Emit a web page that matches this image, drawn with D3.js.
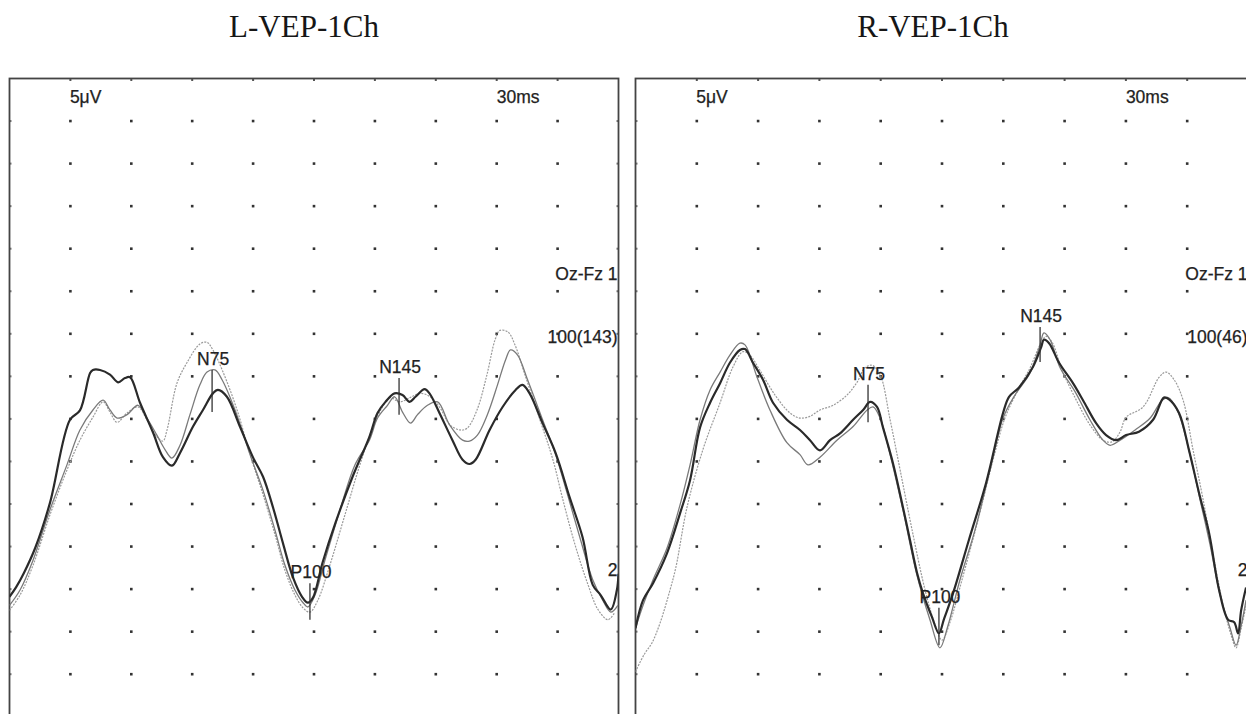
<!DOCTYPE html>
<html>
<head>
<meta charset="utf-8">
<script src="https://cdn.jsdelivr.net/npm/d3@7"></script>
<style>
  html, body { margin: 0; padding: 0; background: #ffffff; }
  svg { display: block; }
</style>
</head>
<body>
<svg id="chart" width="1246" height="714"></svg>
<script>
// ---------------- DATA (time in ms, amplitude in µV) ----------------
const panelTitles = ["L-VEP-1Ch", "R-VEP-1Ch"];
const timeTicks = [0, 30, 60, 90, 120, 150, 180, 210, 240, 270, 300];
const ampTicks = [40, 35, 30, 25, 20, 15, 10, 5, 0, -5, -10, -15, -20, -25, -30, -35, -40];
const scaleLabels = ["5\u03bcV", "30ms"];
const channelLabel = "Oz-Fz 1";
const sweepLabels = ["100(143)", "100(46)"];
const endLabel = "2";

// Left eye traces
const L_dark = [[0,-20.9],[3.2,-19.8],[7.1,-18.1],[12.6,-15.2],[19.9,-9.9],[29.8,-0.1],[34.7,1.0],[39.7,5.4],[41.1,5.75],[44.6,5.75],[49.5,5.2],[53.5,4.3],[56.9,4.8],[59.4,4.9],[64.3,1.9],[70.7,-1.6],[75.6,-4.5],[80.0,-5.5],[84.0,-4.0],[90.4,-0.9],[95.3,1.05],[100.2,3.0],[102.7,3.4],[107.1,2.6],[113.5,-0.9],[119.9,-4.5],[124.9,-6.8],[129.8,-10.4],[134.7,-14.6],[139.6,-18.6],[144.1,-20.9],[147.0,-21.6],[149.5,-21.0],[154.2,-16.9],[160.6,-12.2],[169.0,-6.8],[177.3,-2.1],[181.3,0.7],[185.2,2.0],[189.7,3.0],[193.6,2.8],[197.1,2.0],[200.0,2.6],[204.5,3.5],[206.9,3.0],[211.8,0.7],[218.2,-2.5],[223.2,-4.8],[226.6,-5.3],[229.6,-4.8],[236.5,-1.3],[242.9,1.4],[249.3,3.4],[252.7,4.0],[256.2,3.0],[262.6,-0.5],[269.0,-4.0],[275.9,-9.2],[282.3,-13.9],[287.3,-19.5],[291.2,-20.7],[296.2,-22.4],[299.2,-20.1],[300,-18.2]];
const L_gray1 = [[0,-21.9],[5.2,-20.1],[11.6,-16.6],[19.9,-10.7],[28.3,-5.4],[34.7,-1.3],[41.1,1.05],[46.1,2.2],[49.5,1.05],[53.0,0.1],[57.9,0.5],[63.3,1.6],[67.7,0.1],[72.6,-1.9],[76.6,-3.6],[80.0,-4.6],[84.0,-3.1],[88.9,0.5],[93.8,4.0],[97.3,5.5],[101.2,5.75],[104.7,4.6],[111.1,1.05],[118.5,-4.2],[124.9,-8.4],[130.8,-13.1],[135.7,-17.2],[140.6,-20.1],[144.6,-21.6],[147.0,-22.1],[150.5,-20.7],[155.4,-16.6],[162.8,-10.7],[170.2,-5.4],[177.3,-2.5],[181.3,0.1],[186.2,1.6],[189.7,2.6],[193.6,0.8],[197.6,-0.5],[201.0,0.5],[205.9,1.6],[210.9,2.0],[216.8,-0.7],[223.2,-2.5],[226.6,-2.6],[230.5,-1.9],[235.4,0.5],[240.4,4.0],[244.3,6.9],[246.8,8.1],[250.3,7.5],[255.2,4.6],[262.6,-0.1],[269.0,-4.2],[274.9,-8.9],[281.3,-14.2],[287.3,-18.9],[292.2,-21.3],[296.2,-22.7],[299.7,-21.9]];
const L_gray2 = [[0,-22.5],[5.2,-20.7],[11.6,-17.2],[19.9,-11.3],[28.3,-6.0],[34.7,-2.5],[41.1,0.2],[46.1,2.0],[49.5,0.8],[53.0,-0.4],[57.9,0.7],[63.3,1.4],[67.7,-0.1],[72.6,-2.1],[75.6,-2.6],[77.6,-1.3],[82.5,4.2],[87.4,6.6],[93.8,8.8],[97.3,9.0],[100.2,8.1],[105.2,5.5],[112.1,1.05],[118.5,-4.2],[124.9,-8.9],[130.8,-13.6],[135.7,-17.8],[140.6,-20.7],[144.6,-22.2],[148.0,-22.7],[151.9,-21.3],[157.8,-17.2],[165.2,-11.3],[172.6,-5.4],[178.5,-1.3],[183.5,1.3],[187.4,2.5],[192.3,2.0],[197.3,2.5],[202.2,3.0],[207.2,2.6],[212.1,1.3],[217.0,-0.7],[222.0,-1.3],[225.4,-1.1],[230.3,1.05],[235.2,5.2],[239.2,9.3],[241.6,10.4],[245.6,10.2],[249.0,8.7],[253.9,5.2],[261.3,-0.1],[267.7,-4.8],[272.6,-9.5],[278.6,-14.8],[285.0,-19.5],[289.9,-22.4],[294.8,-23.6],[298.3,-22.7]];

// Right eye traces
const R_dark = [[0,-24.6],[3.7,-21.3],[8.6,-19.3],[15.4,-15.8],[21.8,-11.1],[26.7,-7.2],[31.6,-1.0],[36.5,1.9],[41.4,4.2],[46.2,6.6],[51.1,8.1],[53.6,8.2],[57.5,6.6],[62.4,4.6],[67.3,1.9],[74.1,-0.1],[80.5,-1.3],[85.4,-2.5],[90.3,-3.7],[95.2,-2.5],[100.1,-1.7],[106.5,-0.1],[111.4,1.05],[114.8,2.0],[118.2,1.4],[121.1,-1.0],[126.0,-5.2],[130.9,-10.4],[134.3,-14.2],[137.8,-18.1],[140.7,-20.5],[145.1,-23.3],[148.5,-25.2],[151.0,-23.5],[155.4,-20.5],[163.2,-14.2],[171.6,-7.5],[179.9,0.7],[182.8,2.6],[187.7,3.7],[194.5,6.1],[198.5,8.4],[199.9,9.3],[202.4,8.9],[207.3,6.6],[214.1,4.2],[219.0,2.2],[225.4,-0.5],[230.3,-1.9],[235.2,-2.5],[240.1,-1.9],[246.4,-1.5],[253.3,-0.1],[258.6,2.5],[261.1,2.3],[266.0,0.7],[270.9,-3.7],[275.8,-8.7],[280.7,-13.4],[285.6,-20.1],[290.0,-23.6],[293.0,-23.9],[294.9,-25.2],[296.4,-22.5],[298.8,-19.8]];
const R_gray1 = [[0,-24.6],[3.7,-21.9],[8.6,-18.9],[15.4,-15.2],[21.8,-10.1],[26.7,-5.4],[31.6,-0.1],[36.5,3.4],[41.4,5.5],[46.2,7.5],[51.1,8.9],[53.6,8.7],[59.5,4.9],[65.8,1.05],[74.1,-2.8],[80.5,-4.2],[84.4,-5.4],[90.3,-4.5],[98.6,-2.5],[106.5,-0.9],[113.4,1.05],[116.3,1.4],[119.7,0.1],[124.6,-4.2],[130.9,-10.7],[137.8,-18.4],[144.1,-23.6],[149.0,-26.9],[152.9,-24.3],[158.8,-18.9],[166.1,-13.1],[173.5,-6.0],[179.9,0.1],[185.7,2.8],[193.1,5.4],[198.0,8.7],[199.9,10.1],[202.9,9.3],[207.8,6.0],[215.1,3.2],[222.4,-0.1],[228.8,-2.5],[232.3,-3.1],[237.2,-2.5],[244.5,-1.3],[251.9,0.1],[257.7,2.2],[260.7,2.5],[265.5,0.8],[271.4,-4.2],[276.3,-9.5],[281.2,-14.8],[286.1,-20.7],[291.0,-24.6],[293.9,-26.6],[296.4,-24.3],[298.8,-21.3]];
const R_gray2 = [[0,-29.7],[4.2,-27.7],[8.1,-26.3],[12.0,-24.0],[16.9,-20.1],[19.8,-17.4],[25.2,-10.4],[33.0,-3.6],[41.4,1.9],[47.7,6.1],[52.6,7.9],[56.0,7.5],[60.9,5.7],[68.3,2.8],[75.6,0.7],[80.5,0.1],[85.4,0.3],[90.3,1.05],[96.7,1.6],[103.5,2.8],[108.4,4.3],[112.3,6.0],[115.8,6.3],[119.7,5.2],[124.6,-0.1],[129.5,-6.0],[135.4,-13.1],[141.7,-20.1],[146.6,-24.2],[150.0,-26.0],[153.9,-23.9],[159.8,-18.9],[167.6,-11.9],[175.0,-4.8],[180.8,0.1],[187.2,3.4],[193.1,6.0],[198.0,8.7],[200.9,9.7],[203.9,9.0],[208.8,5.7],[215.1,2.5],[222.4,-0.7],[228.8,-2.5],[233.2,-2.7],[237.2,-1.5],[240.1,0.2],[248.4,1.4],[256.3,4.9],[259.7,5.5],[263.6,4.6],[268.0,2.2],[272.9,-3.7],[277.8,-9.5],[282.7,-16.0],[287.6,-21.9],[291.5,-25.4],[293.9,-26.9],[296.4,-24.6],[298.8,-21.9]];

// Peak markers: [label, time ms, marker top µV, marker bottom µV]
const L_markers = [["N75", 99.8, 5.75, 0.8], ["P100", 148.0, -19.3, -23.6], ["N145", 191.9, 4.8, 0.5]];
const R_markers = [["N75", 113.8, 4.0, -0.4], ["P100", 148.5, -22.2, -26.6], ["N145", 198.0, 10.8, 6.7]];

// ---------------- DRAWING ----------------
const svg = d3.select("#chart");
const panels = [
  { title: panelTitles[0], x0: 9.5, w: 609, titleX: 304, traces: [L_gray2, L_gray1, L_dark], markers: L_markers, sweep: sweepLabels[0] },
  { title: panelTitles[1], x0: 635.5, w: 613, titleX: 933, traces: [R_gray2, R_gray1, R_dark], markers: R_markers, sweep: sweepLabels[1] }
];
const frameTop = 78.5, rowH = 42.55;
const traceStyles = [
  { stroke: "#9a9a9a", width: 1.2, dash: "2,1.2" },
  { stroke: "#7a7a7a", width: 1.3, dash: null },
  { stroke: "#2a2a2a", width: 2.2, dash: null }
];
const labelFont = "'Liberation Sans', Arial, Helvetica, sans-serif";

panels.forEach((p, i) => {
  const x = d3.scaleLinear().domain([0, 300]).range([p.x0, p.x0 + p.w]);
  const y = d3.scaleLinear().domain([40, -40]).range([frameTop, frameTop + rowH * 16]);
  const g = svg.append("g");

  // title
  svg.append("text").attr("x", p.titleX).attr("y", 37)
    .attr("text-anchor", "middle")
    .style("font-family", "'Liberation Serif', 'Times New Roman', serif")
    .style("font-size", "31px").style("fill", "#161616")
    .text(p.title);

  // grid dots
  const inner = timeTicks.slice(1, -1);
  const innerA = ampTicks.slice(1, -1);
  innerA.forEach(a => {
    inner.forEach(t => {
      g.append("rect").attr("x", x(t) - 1.3).attr("y", y(a) - 1.3)
        .attr("width", 2.6).attr("height", 2.6).attr("fill", "#333");
    });
  });
  // border tick marks
  inner.forEach(t => {
    g.append("rect").attr("x", x(t) - 1).attr("y", frameTop - 0.5).attr("width", 2).attr("height", 3).attr("fill", "#555");
  });
  innerA.forEach(a => {
    g.append("rect").attr("x", p.x0).attr("y", y(a) - 1).attr("width", 2).attr("height", 2).attr("fill", "#777");
    g.append("rect").attr("x", p.x0 + p.w - 2).attr("y", y(a) - 1).attr("width", 2).attr("height", 2).attr("fill", "#777");
  });

  // frame
  g.append("rect").attr("x", p.x0).attr("y", frameTop).attr("width", p.w).attr("height", rowH * 16)
    .attr("fill", "none").attr("stroke", "#444").attr("stroke-width", 1.8);

  // clip
  const cid = "clip" + i;
  svg.append("clipPath").attr("id", cid).append("rect")
    .attr("x", p.x0).attr("y", frameTop).attr("width", p.w).attr("height", rowH * 16);

  const line = d3.line().x(d => x(d[0])).y(d => y(d[1])).curve(d3.curveCatmullRom.alpha(0.5));
  const tg = g.append("g").attr("clip-path", `url(#${cid})`);
  p.traces.forEach((tr, k) => {
    const s = traceStyles[k];
    tg.append("path").datum(tr).attr("d", line)
      .attr("fill", "none").attr("stroke", s.stroke).attr("stroke-width", s.width)
      .attr("stroke-linejoin", "round")
      .attr("stroke-dasharray", s.dash);
  });

  // markers
  p.markers.forEach(m => {
    g.append("line").attr("x1", x(m[1])).attr("x2", x(m[1]))
      .attr("y1", y(m[2])).attr("y2", y(m[3]))
      .attr("stroke", "#333").attr("stroke-width", 1.3);
    g.append("text").attr("x", x(m[1]) + 1).attr("y", y(m[2]) - 5)
      .attr("text-anchor", "middle")
      .style("font-family", labelFont).style("font-size", "17.5px").style("fill", "#222")
      .style("stroke", "#222").style("stroke-width", "0.25px")
      .text(m[0]);
  });

  // scale labels
  const lab = (txt, xx, yy, anchor) => g.append("text").attr("x", xx).attr("y", yy)
    .attr("text-anchor", anchor)
    .style("font-family", labelFont).style("font-size", "17.5px").style("fill", "#222")
    .style("stroke", "#222").style("stroke-width", "0.25px").text(txt);
  lab(scaleLabels[0], x(30) - 0.5, 103, "start");
  lab(scaleLabels[1], x(240), 103, "start");
  lab(channelLabel, x(300) - 1, 280, "end");
  lab(p.sweep, x(300) - 1, 343, "end");
  lab(endLabel, x(300) - 1, 576, "end");
});
</script>
</body>
</html>
